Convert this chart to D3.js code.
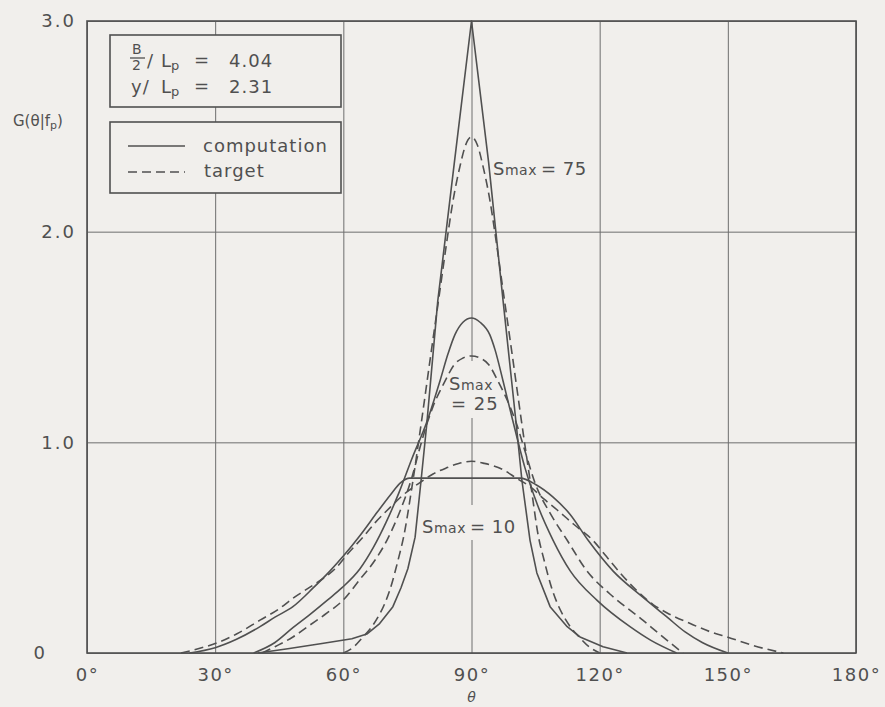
<!DOCTYPE html>
<html>
<head>
<meta charset="utf-8">
<script src="https://cdn.jsdelivr.net/npm/d3@7"></script>
<style>
    html, body { margin: 0; padding: 0; background: #f1efec; }
    svg { display: block; }
    text { font-family: "DejaVu Sans", sans-serif; fill: #505050; }
</style>
</head>
<body>
<svg id="chart" width="885" height="707"></svg>
<script>
'use strict';

// axis ticks
var thetaTicks = [0, 30, 60, 90, 120, 150, 180];
var gTicks = [0, 1, 2, 3];

// [theta (deg), G]
var comp75 = [[40, 0], [47, 0.02], [55, 0.045], [62, 0.068], [65.5, 0.09], [68.5, 0.14], [71.6, 0.22],
    [73.5, 0.31], [75.1, 0.40], [76.8, 0.55], [78.2, 0.82], [79.5, 1.08], [82.1, 1.67], [86, 2.33],
    [90, 3.0], [94, 2.33], [97.4, 1.67], [100.5, 1.08], [101.8, 0.82], [103.7, 0.535], [105.3, 0.38],
    [108.4, 0.22], [112.4, 0.125], [115.4, 0.076], [120.8, 0.03], [126.4, 0]];
var target75 = [[60, 0], [62.5, 0.03], [64.6, 0.076], [66.5, 0.12], [68.1, 0.17], [69.6, 0.23], [70.9, 0.30],
    [72.8, 0.44], [74.2, 0.56], [76, 0.78], [78.3, 1.1], [80.5, 1.42], [82.6, 1.72], [84.2, 1.95],
    [85.7, 2.15], [87.3, 2.31], [88.6, 2.41], [90, 2.45], [91.4, 2.41], [92.7, 2.31], [94.3, 2.15],
    [95.8, 1.95], [97.4, 1.72], [99.5, 1.42], [101.7, 1.1], [104, 0.78], [105.6, 0.56], [107, 0.44],
    [108.9, 0.30], [110.2, 0.23], [111.7, 0.17], [113.3, 0.12], [115.2, 0.076], [117.5, 0.03], [120, 0]];
var comp25 = [[39, 0], [44, 0.05], [48.2, 0.12], [52, 0.18], [56.2, 0.25], [59.7, 0.31], [63.9, 0.40],
    [67, 0.50], [70, 0.62], [73, 0.76], [76, 0.92], [79.6, 1.10], [82.6, 1.29], [84.5, 1.42], [86.1, 1.51],
    [88, 1.57], [90, 1.59], [92, 1.57], [94.3, 1.51], [95.5, 1.44], [97.4, 1.29], [99.7, 1.10],
    [102.5, 0.88], [105.5, 0.70], [109.1, 0.535], [113.1, 0.39], [119.4, 0.25], [127.1, 0.125],
    [132, 0.06], [138, 0]];
var target25 = [[41, 0], [44, 0.03], [48.2, 0.076], [52, 0.13], [56.2, 0.19], [59.9, 0.25], [63.9, 0.35],
    [67.4, 0.44], [70.2, 0.535], [73, 0.66], [76, 0.83], [78, 0.98], [79.6, 1.09], [81, 1.17], [83.8, 1.29],
    [86, 1.37], [88, 1.40], [90, 1.41], [92, 1.40], [94, 1.37], [96.2, 1.29], [99, 1.17], [100.5, 1.09],
    [102.5, 0.96], [105, 0.80], [108.5, 0.66], [112.4, 0.535], [117, 0.39], [122.4, 0.28], [130.1, 0.156],
    [134, 0.09], [139.5, 0]];
var comp10 = [[24, 0], [30, 0.025], [35, 0.065], [40.5, 0.125], [44, 0.17], [48.2, 0.22], [53, 0.31],
    [56.9, 0.39], [60, 0.46], [64, 0.56], [68, 0.67], [71, 0.75], [73.5, 0.81], [75.5, 0.83], [101.4, 0.83],
    [105, 0.80], [109.1, 0.74], [113, 0.66], [117.3, 0.535], [123.1, 0.39], [130.1, 0.265], [135.8, 0.17],
    [140, 0.10], [144, 0.05], [150, 0]];
var target10 = [[22, 0], [26, 0.02], [30, 0.045], [35, 0.09], [40.5, 0.156], [45, 0.21], [48.2, 0.26],
    [52, 0.31], [55, 0.35], [58.1, 0.40], [61, 0.47], [64.6, 0.55], [67.5, 0.62], [70.9, 0.69], [74, 0.75],
    [78, 0.81], [81, 0.85], [84.3, 0.88], [87, 0.90], [90, 0.91], [93, 0.90], [97.4, 0.87], [100.5, 0.83],
    [103.7, 0.79], [107, 0.73], [110, 0.68], [114, 0.61], [118.4, 0.535], [121.5, 0.46], [124.8, 0.38],
    [128.5, 0.30], [132.5, 0.23], [135.8, 0.19], [141.2, 0.14], [146, 0.10], [150, 0.075], [156, 0.035],
    [163, 0]];

var INK = '#505050';
var PAPER = '#f1efec';
var DASH = '9,5';

var margin = {top: 21, right: 29, bottom: 54, left: 87};
var width = 885 - margin.left - margin.right;
var height = 707 - margin.top - margin.bottom;

var svg = d3.select('#chart');
var plot = svg.append('g').attr('transform', 'translate(' + margin.left + ',' + margin.top + ')');

var x = d3.scaleLinear().domain([0, 180]).range([0, width]);
var y = d3.scaleLinear().domain([0, 3]).range([height, 0]);

// grid
function styleGrid(g) {
    g.select('.domain').remove();
    g.selectAll('.tick line').attr('stroke', '#6e6e6e').attr('stroke-width', 1);
}
plot.append('g')
    .attr('transform', 'translate(0,' + height + ')')
    .call(d3.axisBottom(x).tickValues(thetaTicks).tickSize(-height).tickFormat(''))
    .call(styleGrid);
plot.append('g')
    .call(d3.axisLeft(y).tickValues(gTicks).tickSize(-width).tickFormat(''))
    .call(styleGrid);

// x tick labels
plot.append('g')
    .attr('transform', 'translate(0,' + height + ')')
    .call(d3.axisBottom(x).tickValues(thetaTicks).tickSize(0).tickPadding(15)
        .tickFormat(function (d) { return d + '\u00b0'; }))
    .call(function (g) {
        g.select('.domain').remove();
        g.selectAll('text').attr('font-size', 18).attr('fill', INK)
            .attr('font-family', '"DejaVu Sans", sans-serif').style('letter-spacing', '1.5px');
    });

// y tick labels
plot.append('g').selectAll('text')
    .data(gTicks)
    .enter().append('text')
    .attr('x', function (d) { return d === 0 ? -40 : -11; })
    .attr('y', function (d) { return y(d); })
    .attr('dy', '0.36em')
    .attr('text-anchor', 'end')
    .attr('font-size', 18)
    .style('letter-spacing', '2px')
    .text(function (d) { return d === 0 ? '0' : d.toFixed(1); });

// masks where the 90 deg grid line is broken by the labels
function gridGap(y0, y1) {
    plot.append('rect')
        .attr('x', x(90) - 4).attr('width', 8)
        .attr('y', y0 - margin.top).attr('height', y1 - y0)
        .attr('fill', PAPER);
}
gridGap(361, 418);
gridGap(505, 540);

// curves
var series = [
    {pts: comp10, dashed: false},
    {pts: target10, dashed: true},
    {pts: comp25, dashed: false},
    {pts: target25, dashed: true},
    {pts: target75, dashed: true},
    {pts: comp75, dashed: false, sharp: true}
];

series.forEach(function (s) {
    var line = d3.line()
        .x(function (d) { return x(d[0]); })
        .y(function (d) { return y(d[1]); })
        .curve(s.sharp ? d3.curveLinear : d3.curveMonotoneX);
    plot.append('path')
        .datum(s.pts)
        .attr('d', line)
        .attr('fill', 'none')
        .attr('stroke', INK)
        .attr('stroke-width', 1.6)
        .attr('stroke-linejoin', 'round')
        .attr('stroke-dasharray', s.dashed ? DASH : null);
});

// frame
plot.append('rect')
    .attr('width', width).attr('height', height)
    .attr('fill', 'none').attr('stroke', INK).attr('stroke-width', 1.6);

// axis titles
var gLabel = svg.append('text').attr('x', 13).attr('y', 126).attr('font-size', 15);
gLabel.append('tspan').text('G(\u03b8|f');
gLabel.append('tspan').attr('font-size', 11).attr('dy', 3).text('p');
gLabel.append('tspan').attr('dy', -3).text(')');

svg.append('text')
    .attr('x', x(90) + margin.left).attr('y', 702)
    .attr('text-anchor', 'middle').attr('font-size', 14).attr('font-style', 'italic')
    .text('\u03b8');

// parameter box
svg.append('rect').attr('x', 110).attr('y', 35).attr('width', 231).attr('height', 72)
    .attr('fill', PAPER).attr('stroke', INK).attr('stroke-width', 1.6);

function addText(tx, ty, str, size) {
    return svg.append('text').attr('x', tx).attr('y', ty).attr('font-size', size || 18)
        .style('letter-spacing', '1px').text(str);
}
function addLp(tx, ty) {
    var t = svg.append('text').attr('x', tx).attr('y', ty).attr('font-size', 18);
    t.append('tspan').text('L');
    t.append('tspan').attr('font-size', 13).attr('dy', 3).text('p');
}

addText(132, 54, 'B', 14);
svg.append('line').attr('x1', 130).attr('x2', 145).attr('y1', 58).attr('y2', 58)
    .attr('stroke', INK).attr('stroke-width', 1.3);
addText(132, 70, '2', 14);
addText(147, 67, '/');
addLp(161, 67);
addText(194, 66, '=');
addText(229, 67, '4.04');

addText(131, 93, 'y/');
addLp(161, 93);
addText(194, 92, '=');
addText(229, 93, '2.31');

// legend box
svg.append('rect').attr('x', 110).attr('y', 122).attr('width', 231).attr('height', 71)
    .attr('fill', PAPER).attr('stroke', INK).attr('stroke-width', 1.6);
svg.append('line').attr('x1', 128).attr('x2', 185).attr('y1', 146).attr('y2', 146)
    .attr('stroke', INK).attr('stroke-width', 1.6);
svg.append('line').attr('x1', 128).attr('x2', 185).attr('y1', 172).attr('y2', 172)
    .attr('stroke', INK).attr('stroke-width', 1.6).attr('stroke-dasharray', DASH);
addText(203, 152, 'computation');
addText(204, 177, 'target');

// S max annotations
function addSmax(tx, ty, rest) {
    var t = svg.append('text').attr('x', tx).attr('y', ty).attr('font-size', 18)
        .style('letter-spacing', '0.5px');
    t.append('tspan').text('S');
    t.append('tspan').attr('font-size', 14).text('max');
    if (rest) {
        t.append('tspan').attr('dx', 4).text(rest);
    }
    return t;
}
addSmax(493, 175, '= 75');
addSmax(449, 390);
addText(451, 410, '= 25');
addSmax(422, 533, '=  10');
</script>
</body>
</html>
